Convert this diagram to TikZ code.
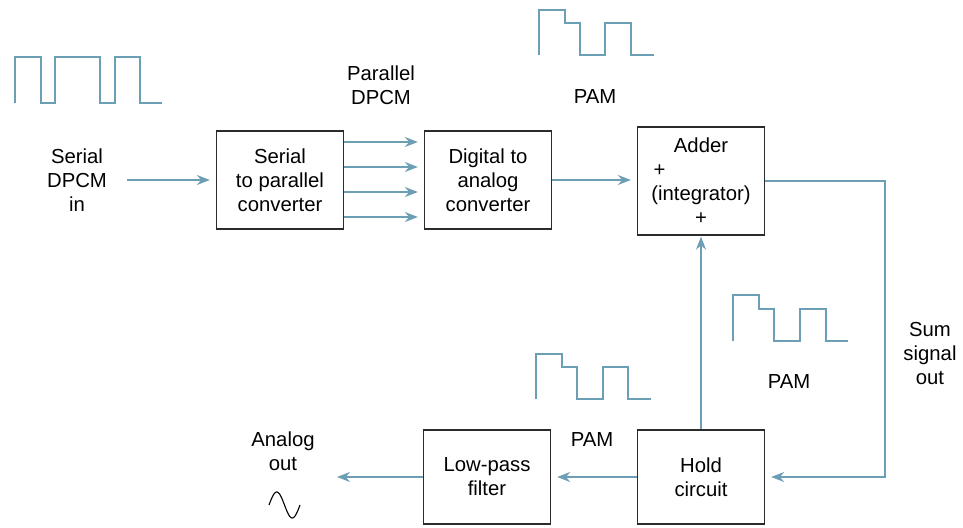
\documentclass[tikz,border=0pt]{standalone}
\usepackage{fontspec}
\setmainfont{Liberation Sans}
\usetikzlibrary{positioning, arrows.meta, calc}
\definecolor{SignalBlue}{HTML}{6C9FB5}
\definecolor{BoxGrey}{HTML}{2B2B2B}

\begin{document}
\begin{tikzpicture}[
                x=1pt, y=-1pt,
                >={Stealth[length=13pt, width=10pt]},
                txt/.style={font=\fontsize{20.3}{24}\selectfont, align=center, inner sep=0pt},
                block/.style={rectangle, draw=BoxGrey, line width=1.3pt, minimum width=127pt, minimum height=98pt, txt},
                flow/.style={->, draw=SignalBlue, line width=1.5pt, shorten >=6pt},
                wave/.style={draw=SignalBlue, line width=1.5pt}
            ]
                \useasboundingbox (0,0) rectangle (963,527);

                % Blocks
                \node[block] (s2p) at (280,180) {Serial\\to parallel\\converter};
                \node[block] (dac) at (488,180) {Digital to\\analog\\converter};
                \node[block, minimum height=108pt] (adder) at (701,181)
                    {Adder\\\makebox[5em][l]{\,+}\\(integrator)\\+};
                \node[block, minimum height=94pt] (hold) at (701,477) {Hold\\circuit};
                \node[block, minimum height=94pt] (lpf) at (487,477) {Low-pass\\filter};

                % Labels
                \node[txt] (din) at (77,180) {Serial\\DPCM\\in};
                \node[txt] (par) at (381,85) {Parallel\\DPCM};
                \node[txt] (pam1) at (595,97) {PAM};
                \node[txt] (pam2) at (789,382) {PAM};
                \node[txt] (pam3) at (592,440) {PAM};
                \node[txt] (sum) at (930,354) {Sum\\signal\\out};
                \node[txt] (aout) at (283,451) {Analog\\out};
                \coordinate (aend) at (337,477);
                \coordinate (corner) at (885,181);

                % Path connections
                \draw[flow, shorten <=20pt] (din.east) -- (s2p.west);
                \foreach \dy in {-38,-13,12,37}
                    \draw[flow] ($(s2p.east)+(0,\dy)$) -- ($(dac.west)+(0,\dy)$);
                \draw[flow] (dac.east) -- (adder.west |- dac.east);
                \draw[flow] (adder.east |- corner) -- (corner) |- (hold.east);
                \draw[flow, shorten >=1pt] (hold.north) -- (adder.south);
                \draw[flow] (hold.west) -- (lpf.east);
                \draw[flow, shorten >=0pt] (lpf.west) -- (aend);

                % Waveforms
                \draw[wave] (15,103) -- (15,57) -- (41,57) -- (41,103) -- (55,103) -- (55,57)
                    -- (100,57) -- (100,103) -- (115,103) -- (115,57) -- (140,57) -- (140,103) -- (162,103);
                \draw[wave] (539,55) -- (539,10) -- (565,10) -- (565,23) -- (580,23) -- (580,55)
                    -- (605,55) -- (605,23) -- (631,23) -- (631,55) -- (654,55);
                \draw[wave] (733,341) -- (733,295) -- (759,295) -- (759,309) -- (774,309) -- (774,341)
                    -- (800,341) -- (800,309) -- (826,309) -- (826,341) -- (848,341);
                \draw[wave] (536,399) -- (536,354) -- (562,354) -- (562,367) -- (577,367) -- (577,399)
                    -- (603,399) -- (603,367) -- (628,367) -- (628,399) -- (651,399);

                % Analog output symbol
                \draw[black, line width=1.1pt] plot[domain=0:360, samples=50, smooth]
                    ({269+\x/360*31}, {505-13*sin(\x)});
            \end{tikzpicture}
\end{document}
